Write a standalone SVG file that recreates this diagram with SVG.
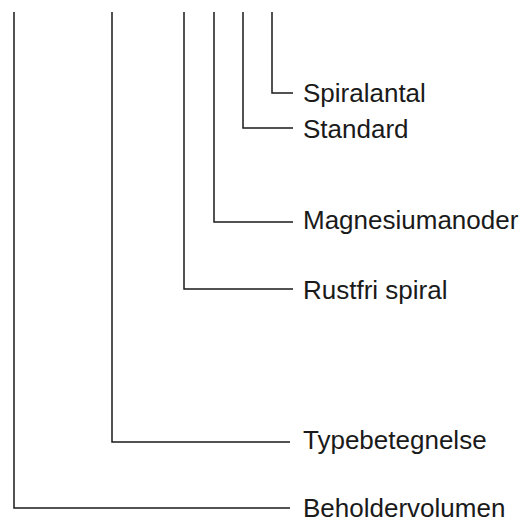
<svg xmlns="http://www.w3.org/2000/svg" width="525" height="522" viewBox="0 0 525 522">
<style>
.c{fill:none;stroke:#1a1a1a;stroke-width:1.5}
.t{font-family:"Liberation Sans",Arial,sans-serif;font-size:26px;fill:#1a1a1a}
</style>
<rect width="525" height="522" fill="#fff"/>
<g id="connectors">
<polyline class="c" points="272,12 272,93 293,93"/>
<polyline class="c" points="243,12 243,128 293,128"/>
<polyline class="c" points="214,12 214,222 293,222"/>
<polyline class="c" points="184,12 184,289 293,289"/>
<polyline class="c" points="112,12 112,442 290,442"/>
<polyline class="c" points="14,12 14,508 290,508"/>
</g>
<g id="spiralantal"><text class="t" x="303" y="102">Spiralantal</text></g>
<g id="standard"><text class="t" x="303" y="138">Standard</text></g>
<g id="magnesiumanoder"><text class="t" x="303" y="229">Magnesiumanoder</text></g>
<g id="rustfri"><text class="t" x="303" y="299">Rustfri spiral</text></g>
<g id="typebetegnelse"><text class="t" x="303" y="449">Typebetegnelse</text></g>
<g id="beholdervolumen"><text class="t" x="303" y="517">Beholdervolumen</text></g>
</svg>
